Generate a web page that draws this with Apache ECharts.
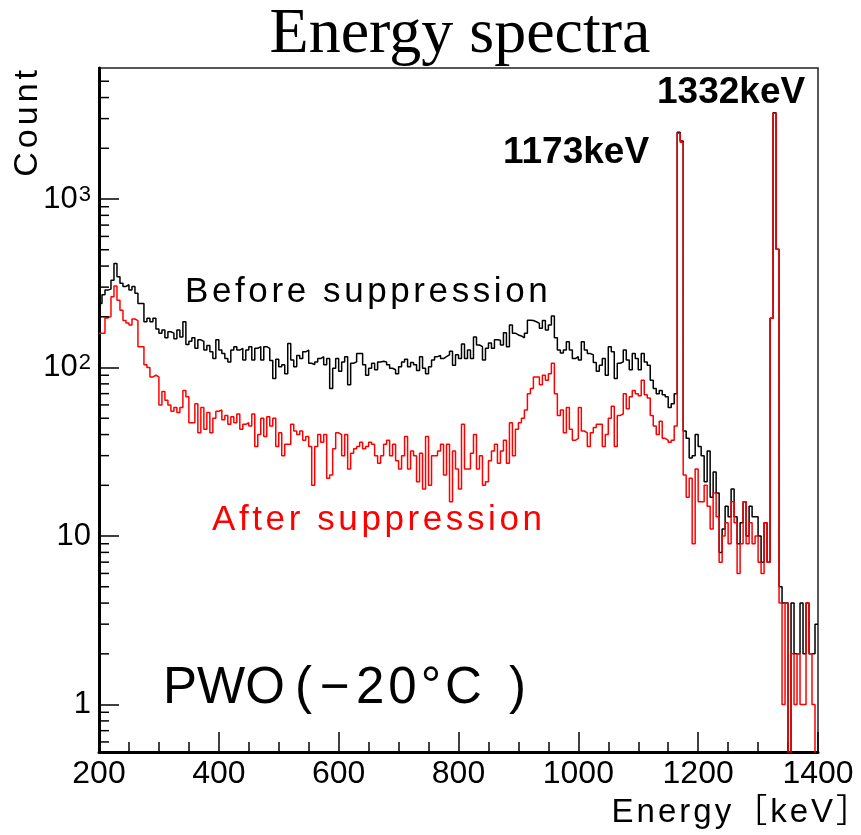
<!DOCTYPE html>
<html>
<head>
<meta charset="utf-8">
<script src="https://cdn.jsdelivr.net/npm/echarts@6.0.0/dist/echarts.min.js"></script>
<style>
  html, body { margin: 0; padding: 0; background: #fff; }
  #chart { width: 861px; height: 835px; }
</style>
</head>
<body>
<div id="chart"></div>
<script>
// ---- histogram binning (keV) ----
const energyLow = 200;
const energyHigh = 1400;
const binWidth = 5;

// ---- counts per 5 keV bin ----
const countsBefore = [
  240,270,288,292,330,415,346,316,303,310,
  288,303,276,240,240,187,196,187,196,169,
  160,167,150,163,160,148,167,152,187,137,
  143,150,130,146,143,127,135,124,113,146,
  127,121,113,108,127,133,127,130,111,127,
  133,111,130,133,111,133,130,110,86,112,
  101,104,92,139,111,101,118,113,124,127,
  106,104,108,113,116,104,113,75,99,113,
  95,108,116,79,106,108,121,121,104,90,
  99,106,97,108,109,108,104,99,97,92,
  101,108,112,101,107,104,96,116,99,92,
  101,111,116,118,113,116,119,125,103,119,
  113,138,113,127,113,152,136,133,111,130,
  140,130,146,145,136,161,133,179,160,156,
  154,150,160,191,190,187,183,171,190,167,
  179,202,150,127,122,127,142,127,113,116,
  111,142,127,121,119,107,95,103,113,90,
  133,124,86,106,108,127,111,97,121,113,
  97,121,108,103,84,75,70,73,69,67,
  58,61,70,2490,2210,42,38,29,30,40,
  34,30,21,32,17,24,18,8,11,15,
  13,19,13,9,12,16,10,15,13,13,
  10,7,12,7,196,3250,503,5,4,4,
  0,4,2,2,4,2,4,2,2,3
];

const countsAfter = [
  160,160,197,201,263,305,251,219,190,184,
  179,194,190,133,133,104,100,88,90,88,
  60,72,64,60,55,58,54,58,73,67,
  47,47,61,41,58,43,54,41,50,55,
  56,49,52,46,51,47,53,43,46,47,
  45,53,34,40,50,39,51,45,50,34,
  41,30,35,35,46,42,40,42,37,39,
  34,20,34,40,36,40,22,23,33,41,
  40,30,40,25,31,33,34,36,33,34,
  36,35,30,27,30,35,37,30,35,28,
  25,30,39,25,32,30,21,31,19,39,
  20,30,30,32,35,23,35,16,32,25,
  19,46,25,25,31,40,25,30,20,21,
  28,32,35,27,32,37,27,47,30,43,
  47,50,56,70,75,88,88,79,90,84,
  92,106,70,52,56,41,58,43,37,38,
  58,42,41,34,41,44,46,46,34,40,
  50,59,34,52,53,70,57,67,73,70,
  68,84,69,66,52,45,40,48,38,37,
  36,37,45,2455,2170,23,17,22,9,25,
  16,16,20,15,11,18,13,7,10,12,
  9,16,12,6,9,16,9,12,9,10,
  7,6,12,7,196,3226,503,4,1,4,
  0,2,1,2,1,1,4,2,1,0
];

// ---- axis settings ----
const yMin = 0.523;
const yMax = 5990;
const yMinorTickValues = [0.6,0.7,0.8,0.9, 2,3,4,5,6,7,8,9, 20,30,40,50,60,70,80,90,
  200,300,400,500,600,700,800,900, 2000,3000,4000,5000];

// zero-count bins fall below the log axis; they are drawn off the bottom and clipped
const zeroFloor = 0.01;

function histPoints(counts) {
  const pts = counts.map((c, i) => [energyLow + i * binWidth, c > 0 ? c : zeroFloor]);
  const last = counts[counts.length - 1];
  pts.push([energyHigh, last > 0 ? last : zeroFloor]);
  return pts;
}

const SANS = '"Liberation Sans", Arial, "Noto Sans CJK JP", sans-serif';
const SERIF = '"Liberation Serif", "Times New Roman", serif';

function spacedText(str, tokenStyle, gap) {
  return {
    text: str.split('').map(ch => '{c|' + ch + '}').join(''),
    rich: { c: Object.assign({}, tokenStyle, { padding: [0, gap, 0, 0] }) }
  };
}

// text element positioned by the element origin, so rotation turns about its anchor
function textEl(opts) {
  const st = Object.assign({
    x: 0, y: 0,
    textAlign: opts.align || 'left',
    textVerticalAlign: 'middle',
    fill: opts.color || '#000',
    font: opts.font
  }, opts.gap ? spacedText(opts.text, {
      fontSize: opts.size, fontFamily: opts.family || SANS,
      fontWeight: opts.weight || 'normal', fill: opts.color || '#000'
    }, opts.gap) : { text: opts.text });
  const el = { type: 'text', silent: true, z: 100, x: opts.x, y: opts.y, style: st };
  if (opts.rotation) el.rotation = opts.rotation;
  return el;
}

const chart = echarts.init(document.getElementById('chart'), null, { renderer: 'canvas' });

const option = {
  animation: false,
  backgroundColor: '#fff',
  grid: {
    left: 99, top: 68, width: 719, height: 684,
    show: true, borderColor: '#222', borderWidth: 1.5, backgroundColor: 'transparent'
  },
  xAxis: {
    type: 'value',
    min: energyLow, max: energyHigh, interval: 200,
    axisLine: { show: true, onZero: false, lineStyle: { color: '#000', width: 3 } },
    axisTick: { show: true, inside: true, length: 20, lineStyle: { color: '#000', width: 1.5 } },
    minorTick: { show: true, splitNumber: 4, length: 10, lineStyle: { color: '#000', width: 1.5 } },
    splitLine: { show: false },
    minorSplitLine: { show: false },
    axisLabel: {
      color: '#000', fontSize: 32, fontFamily: SANS, margin: 6,
      formatter: function (v) { return String(v); }
    }
  },
  yAxis: {
    type: 'log', logBase: 10,
    min: yMin, max: yMax,
    axisLine: { show: true, onZero: false, lineStyle: { color: '#000', width: 3 } },
    axisTick: { show: true, inside: true, length: 20, lineStyle: { color: '#000', width: 1.5 } },
    minorTick: { show: false },
    splitLine: { show: false },
    axisLabel: {
      color: '#000', fontSize: 31, fontFamily: SANS, margin: 8,
      showMinLabel: false, showMaxLabel: false,
      formatter: function (v) {
        const l = Math.log10(v);
        const e = Math.round(l);
        if (Math.abs(l - e) > 1e-6) return '';
        if (e === 0) return '1';
        if (e === 1) return '10';
        return '{b|10}{s|' + e + '}';
      },
      rich: {
        b: { fontSize: 31, fontFamily: SANS, color: '#000', verticalAlign: 'bottom' },
        s: { fontSize: 22, fontFamily: SANS, color: '#000', verticalAlign: 'top', padding: [0, 0, 0, 1] }
      }
    }
  },
  series: [
    {
      name: 'Before suppression',
      type: 'line', step: 'end', symbol: 'none', clip: true,
      data: histPoints(countsBefore),
      lineStyle: { color: '#000', width: 1.5 },
      z: 3
    },
    {
      name: 'After suppression',
      type: 'line', step: 'end', symbol: 'none', clip: true,
      data: histPoints(countsAfter),
      lineStyle: { color: '#ff0000', width: 1.5 },
      z: 4
    },
    {
      name: 'yMinorTicks',
      type: 'custom', silent: true, clip: false, z: 5,
      data: yMinorTickValues.map(v => [energyLow, v]),
      renderItem: function (params, api) {
        const p = api.coord([api.value(0), api.value(1)]);
        return {
          type: 'line',
          shape: { x1: p[0], y1: p[1], x2: p[0] + 10, y2: p[1] },
          style: { stroke: '#000', lineWidth: 1.5 }
        };
      }
    }
  ],
  graphic: [
    textEl({ text: 'Energy spectra', x: 460, y: 35, align: 'center', font: 'normal 64px ' + SERIF }),
    textEl({ text: 'Count', x: 28, y: 66, align: 'right', size: 34, gap: 4, rotation: Math.PI / 2 }),
    textEl({ text: 'Energy［keV］', x: 872, y: 813, align: 'right', size: 33, gap: 3 }),
    textEl({ text: 'Before suppression', x: 185, y: 292.5, size: 35, gap: 3.6 }),
    textEl({ text: 'After suppression', x: 212, y: 520, size: 35, gap: 3.6, color: '#ff0000' }),
    textEl({ text: 'PWO', x: 163, y: 689, font: 'normal 51px ' + SANS }),
    textEl({ text: '(', x: 295, y: 689, font: 'normal 51px ' + SANS }),
    textEl({ text: '−', x: 320, y: 689, font: 'normal 51px ' + SANS }),
    textEl({ text: '20°C', x: 356, y: 689, size: 51, gap: 4 }),
    textEl({ text: ')', x: 509, y: 689, font: 'normal 51px ' + SANS }),
    textEl({ text: '1173keV', x: 503, y: 153, font: 'bold 37px ' + SANS }),
    textEl({ text: '1332keV', x: 657, y: 93, font: 'bold 37px ' + SANS })
  ]
};

chart.setOption(option);
</script>
</body>
</html>
